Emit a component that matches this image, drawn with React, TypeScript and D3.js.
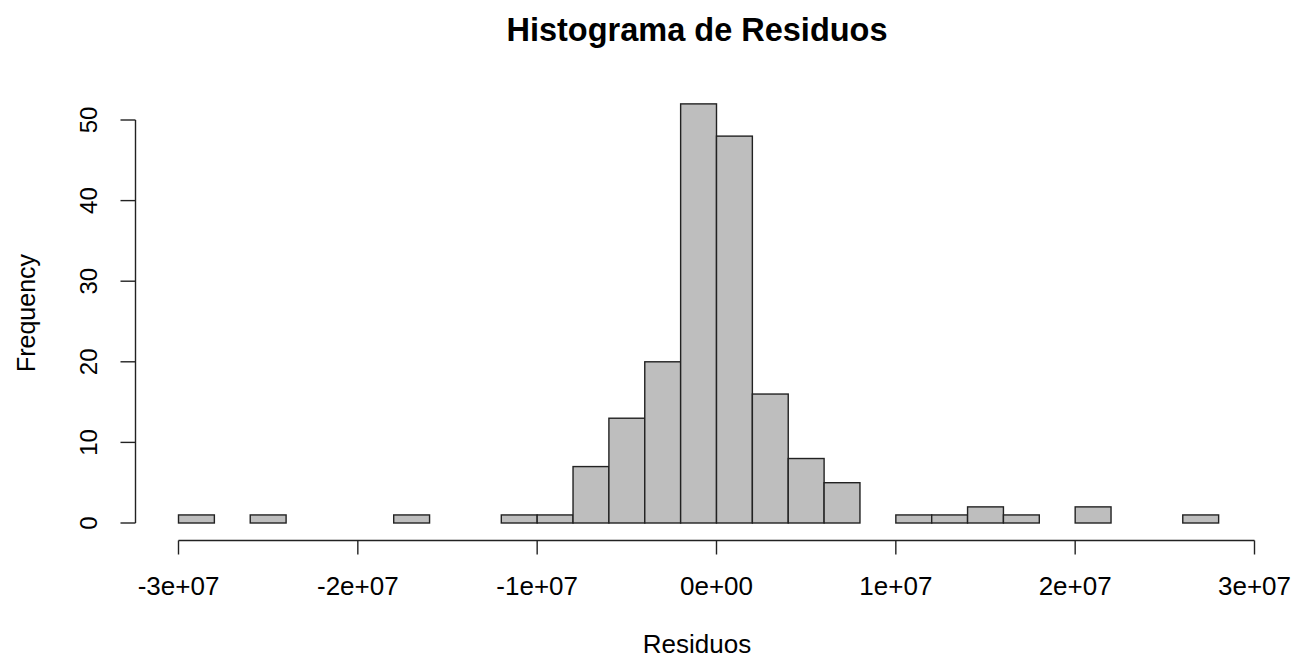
import React from "react";
import * as d3 from "d3";

const binStarts: number[] = [
  -3e7, -2.8e7, -2.6e7, -2.4e7, -2.2e7, -2e7, -1.8e7, -1.6e7, -1.4e7, -1.2e7,
  -1e7, -8e6, -6e6, -4e6, -2e6, 0, 2e6, 4e6, 6e6, 8e6,
  1e7, 1.2e7, 1.4e7, 1.6e7, 1.8e7, 2e7, 2.2e7, 2.4e7, 2.6e7,
];
const counts: number[] = [
  1, 0, 1, 0, 0, 0, 1, 0, 0, 1,
  1, 7, 13, 20, 52, 48, 16, 8, 5, 0,
  1, 1, 2, 1, 0, 2, 0, 0, 1,
];
const binWidth = 2e6;
const xTicks: number[] = [-3e7, -2e7, -1e7, 0, 1e7, 2e7, 3e7];
const xTickLabels: string[] = ["-3e+07", "-2e+07", "-1e+07", "0e+00", "1e+07", "2e+07", "3e+07"];
const yTicks: number[] = [0, 10, 20, 30, 40, 50];

export default function App() {
  const W = 1295, H = 658;
  const x = d3.scaleLinear().domain([-3e7, 3e7]).range([178.5, 1254.5]);
  const y = d3.scaleLinear().domain([0, 50]).range([523, 120]);
  const font = "Liberation Sans, Arial, sans-serif";
  const axisY = 540.5;
  const axisX = 135.5;
  return (
    <svg width={W} height={H} style={{ position: "absolute", left: 0, top: 0, background: "#fff" }}>
      <rect x={0} y={0} width={W} height={H} fill="#fff" />
      <text x={697} y={41} textAnchor="middle" fontFamily={font} fontWeight="bold" fontSize={32.5} fill="#000">
        Histograma de Residuos
      </text>
      {binStarts.map((b, i) => (
        <rect
          key={i}
          x={x(b)}
          y={y(counts[i])}
          width={x(b + binWidth) - x(b)}
          height={y(0) - y(counts[i])}
          fill="#bebebe"
          stroke="#222"
          strokeWidth={1.4}
        />
      ))}
      {/* x axis */}
      <line x1={x(xTicks[0])} x2={x(xTicks[xTicks.length - 1])} y1={axisY} y2={axisY} stroke="#222" strokeWidth={1.4} />
      {xTicks.map((t, i) => (
        <g key={i}>
          <line x1={x(t)} x2={x(t)} y1={axisY} y2={axisY + 14} stroke="#222" strokeWidth={1.4} />
          <text x={x(t)} y={595} textAnchor="middle" fontFamily={font} fontSize={26} fill="#000">
            {xTickLabels[i]}
          </text>
        </g>
      ))}
      <text x={697} y={653} textAnchor="middle" fontFamily={font} fontSize={26} fill="#000">
        Residuos
      </text>
      {/* y axis */}
      <line x1={axisX} x2={axisX} y1={y(0)} y2={y(50)} stroke="#222" strokeWidth={1.4} />
      {yTicks.map((t, i) => (
        <g key={i}>
          <line x1={axisX - 15} x2={axisX} y1={y(t)} y2={y(t)} stroke="#222" strokeWidth={1.4} />
          <text
            transform={`translate(97,${y(t)}) rotate(-90)`}
            textAnchor="middle"
            fontFamily={font}
            fontSize={24}
            fill="#000"
          >
            {t}
          </text>
        </g>
      ))}
      <text transform={`translate(35,313) rotate(-90)`} textAnchor="middle" fontFamily={font} fontSize={25} fill="#000">
        Frequency
      </text>
    </svg>
  );
}
